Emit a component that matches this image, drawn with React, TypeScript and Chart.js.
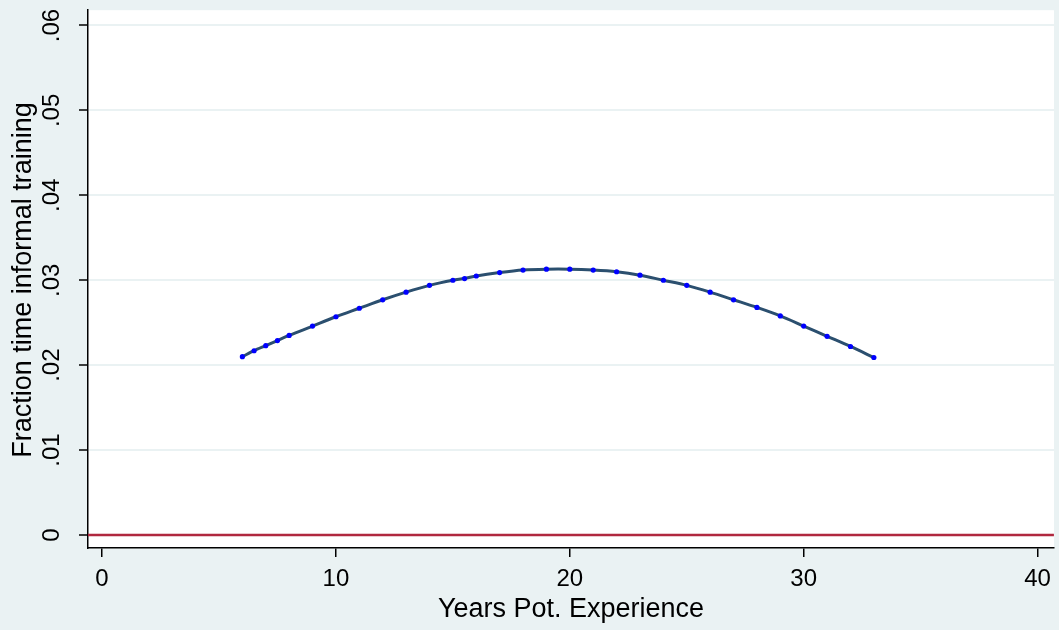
import React, { useEffect, useRef } from "react";
import { Chart, registerables } from "chart.js";

Chart.register(...registerables);

const years = [6, 6.5, 7, 7.5, 8, 9, 10, 11, 12, 13, 14, 15, 15.5, 16, 17, 18, 19, 20, 21, 22, 23, 24, 25, 26, 27, 28, 29, 30, 31, 32, 33];
const fraction = [
  0.021, 0.0217, 0.0223, 0.0229, 0.0235, 0.0246, 0.0257, 0.0267, 0.0277, 0.0286, 0.0294, 0.03, 0.0302, 0.0305, 0.0309, 0.0312,
  0.0313, 0.0313, 0.0312, 0.031, 0.0306, 0.03, 0.0294, 0.0286, 0.0277, 0.0268, 0.0258, 0.0246, 0.0234, 0.0222, 0.0209,
];
const xTicks = [0, 10, 20, 30, 40];
const yTicks = [0, 0.01, 0.02, 0.03, 0.04, 0.05, 0.06];
const yTickLabels = ["0", ".01", ".02", ".03", ".04", ".05", ".06"];
const X_MIN = -0.6;
const X_MAX = 40.7;

const FONT = "'Liberation Sans', Arial, sans-serif";
const BG = "#eaf2f3";

const background = {
  id: "background",
  beforeDraw(chart: Chart) {
    const { ctx, width, height, chartArea } = chart;
    ctx.save();
    ctx.fillStyle = BG;
    ctx.fillRect(0, 0, width, height);
    ctx.fillStyle = "#ffffff";
    ctx.fillRect(chartArea.left, chartArea.top, chartArea.right - chartArea.left, chartArea.bottom - chartArea.top);
    ctx.restore();
  },
};

// Stata-style rotated y tick labels and y title
const yLabels = {
  id: "yLabels",
  afterDraw(chart: Chart) {
    const { ctx } = chart;
    const y = chart.scales.y;
    ctx.save();
    ctx.fillStyle = "#000";
    ctx.textAlign = "center";
    ctx.textBaseline = "middle";
    ctx.font = `24px ${FONT}`;
    yTicks.forEach((v, i) => {
      ctx.save();
      ctx.translate(52, y.getPixelForValue(v));
      ctx.rotate(-Math.PI / 2);
      ctx.fillText(yTickLabels[i], 0, 0);
      ctx.restore();
    });
    ctx.font = `27px ${FONT}`;
    ctx.translate(24, 280);
    ctx.rotate(-Math.PI / 2);
    ctx.fillText("Fraction time informal training", 0, 0);
    ctx.restore();
  },
};

export default function App() {
  const canvasRef = useRef<HTMLCanvasElement>(null);

  useEffect(() => {
    document.body.style.margin = "0";
    if (!canvasRef.current) return;
    const chart = new Chart(canvasRef.current, {
      type: "line",
      data: {
        datasets: [
          {
            data: [
              { x: X_MIN, y: 0 },
              { x: X_MAX, y: 0 },
            ],
            borderColor: "#b0283f",
            borderWidth: 2.5,
            pointRadius: 0,
          },
          {
            data: years.map((x, i) => ({ x, y: fraction[i] })),
            borderColor: "#2b4f6f",
            borderWidth: 3,
            pointRadius: 2.6,
            pointBackgroundColor: "#0000ff",
            pointBorderWidth: 0,
            tension: 0.3,
          },
        ],
      },
      options: {
        animation: false,
        responsive: false,
        layout: { padding: { top: 10, left: 0, right: 0, bottom: 0 } },
        plugins: { legend: { display: false }, tooltip: { enabled: false } },
        scales: {
          x: {
            type: "linear",
            min: X_MIN,
            max: X_MAX,
            afterBuildTicks: (s: any) => {
              s.ticks = xTicks.map((v) => ({ value: v }));
            },
            afterFit: (s: any) => {
              s.height = 82;
            },
            grid: { drawOnChartArea: false, tickLength: 9, color: "#000", lineWidth: 1.5 },
            border: { color: "#000", width: 1.5 },
            ticks: { color: "#000", font: { family: FONT, size: 24 }, padding: 8, maxRotation: 0 },
            title: { display: true, text: "Years Pot. Experience", color: "#000", font: { family: FONT, size: 27 }, padding: { top: -12 } },
          },
          y: {
            min: -0.00153,
            max: 0.0618,
            afterBuildTicks: (s: any) => {
              s.ticks = yTicks.map((v) => ({ value: v }));
            },
            afterFit: (s: any) => {
              s.width = 88;
            },
            grid: { color: BG, lineWidth: 2, tickLength: 9, tickColor: "#000", tickWidth: 1.5 },
            border: { color: "#000", width: 1.5 },
            ticks: { callback: () => "", color: "#000" },
          },
        },
      },
      plugins: [background, yLabels],
    });
    return () => chart.destroy();
  }, []);

  return <canvas ref={canvasRef} width={1059} height={630} style={{ display: "block" }} />;
}
